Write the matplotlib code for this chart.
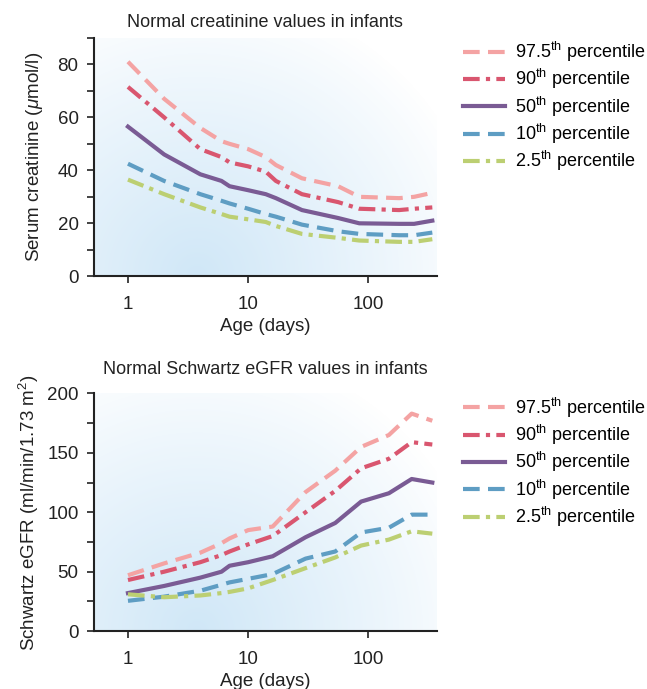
import numpy as np
import matplotlib
matplotlib.use("Agg")
import matplotlib.pyplot as plt
from matplotlib.ticker import FixedLocator, MultipleLocator

plt.rcParams['font.family'] = ['Liberation Sans', 'DejaVu Sans']
plt.rcParams['mathtext.fontset'] = 'custom'
plt.rcParams['mathtext.rm'] = 'Liberation Sans'
plt.rcParams['mathtext.it'] = 'Liberation Sans:italic'

# Serum creatinine (umol/l) by age (days)
creat_age = [1, 2, 4, 6, 7, 10, 14, 17, 28, 56, 84, 180, 240, 340]
creat_p975 = [81, 67, 56, 51, 50, 48, 45, 42, 37, 34, 30, 29.5, 30, 31.5]
creat_p90 = [71.5, 60, 48, 45, 43, 41.5, 39.5, 36, 31, 28, 25.5, 25, 25.5, 26]
creat_p50 = [56.5, 46, 38.5, 36, 34, 32.5, 31, 29.5, 25, 22, 20, 19.8, 19.8, 21]
creat_p10 = [42.5, 36, 31, 28.5, 27.5, 25.5, 23.5, 22.5, 19.5, 17, 16, 15.5, 15.5, 16.5]
creat_p25 = [36.5, 31, 26, 23.5, 22.5, 21.5, 20.5, 19, 16, 14.5, 13.5, 13, 13, 14]

# Schwartz eGFR (ml/min/1.73 m2) by age (days)
egfr_age = [1, 2, 4, 6, 7, 10, 16, 30, 53, 87, 148, 229, 340]
egfr_p975 = [47, 57, 66, 74, 78, 85, 88, 117, 135, 155, 165, 183, 177]
egfr_p90 = [43, 50, 58, 64, 67, 73, 80, 100, 118, 137, 145, 159, 157]
egfr_p50 = [32, 38, 45, 50, 55, 58, 63, 79, 91, 109, 116, 128, 125]
egfr_p10 = [25.5, 29, 34, 39, 41, 44, 48, 61, 67, 83, 87, 98, 98]
egfr_p25 = [31, 28.5, 30, 32, 33, 36, 43, 53, 62, 72, 77, 84, 82]

labels = [r'97.5$^{\rm th}$ percentile', r'90$^{\rm th}$ percentile',
          r'50$^{\rm th}$ percentile', r'10$^{\rm th}$ percentile',
          r'2.5$^{\rm th}$ percentile']
colors = ['#f4a3a3', '#d9566f', '#7a5b94', '#5e9dc3', '#bccf72']
styles = [(0, (4, 2)), (0, (4, 1.5, 1, 1.5)), '-', (0, (4, 2)), (0, (4, 1.5, 1, 1.5))]
TXT = '#222222'


def add_background(ax):
    """Soft blue glow behind the curves"""
    nx, ny = 200, 200
    xx, yy = np.meshgrid(np.linspace(0, 1, nx), np.linspace(0, 1, ny))
    d = np.sqrt(((xx - 0.3) / 0.85) ** 2 + ((yy - 0.0) / 1.2) ** 2)
    a = np.clip(1 - d, 0, 1) ** 0.9
    img = np.zeros((ny, nx, 4))
    img[..., 0] = 0.74
    img[..., 1] = 0.87
    img[..., 2] = 0.96
    img[..., 3] = a * 0.7
    ax.imshow(img, extent=[0, 1, 0, 1], transform=ax.transAxes, origin='lower',
              aspect='auto', zorder=0, interpolation='bilinear')


def style_axes(ax, ymax, major, minor):
    for s in ['top', 'right']:
        ax.spines[s].set_visible(False)
    ax.set_xscale('log')
    ax.set_xlim(0.52, 370)
    ax.set_ylim(0, ymax)
    ax.xaxis.set_major_locator(FixedLocator([1, 10, 100]))
    ax.xaxis.set_minor_locator(FixedLocator([]))
    ax.set_xticklabels(['1', '10', '100'])
    ax.yaxis.set_major_locator(MultipleLocator(major))
    ax.yaxis.set_minor_locator(MultipleLocator(minor))
    ax.tick_params(axis='both', which='major', labelsize=13.5, length=5, width=1.2, colors=TXT)
    ax.tick_params(axis='x', which='major', pad=9)
    ax.tick_params(axis='y', which='major', pad=6)
    ax.tick_params(axis='y', which='minor', length=5, width=1.2, colors=TXT)
    for s in ['left', 'bottom']:
        ax.spines[s].set_linewidth(1.5)
        ax.spines[s].set_color(TXT)
    ax.set_xlabel('Age (days)', fontsize=13.5, color=TXT, labelpad=4)


def add_legend(ax, top):
    ax.legend(loc='upper left', bbox_to_anchor=(1.03, top), frameon=False, fontsize=13,
              handlelength=2.3, labelspacing=0.18, handletextpad=0.55)


fig = plt.figure(figsize=(6.47, 6.89), dpi=100)
ax1 = fig.add_axes([0.145, 0.599, 0.53, 0.346])
ax2 = fig.add_axes([0.145, 0.084, 0.53, 0.345])

# Top: creatinine
add_background(ax1)
creat = [creat_p975, creat_p90, creat_p50, creat_p10, creat_p25]
for vals, lab, col, ls in zip(creat, labels, colors, styles):
    ax1.plot(creat_age, vals, color=col, linestyle=ls, linewidth=3, label=lab, zorder=2)
style_axes(ax1, 90, 20, 10)
ax1.set_ylabel(r'Serum creatinine ($\mu$mol/l)', fontsize=13.5, color=TXT, labelpad=9)
ax1.set_title('Normal creatinine values in infants', fontsize=13, color=TXT, pad=8)
add_legend(ax1, 1.06)

# Bottom: eGFR
add_background(ax2)
egfr = [egfr_p975, egfr_p90, egfr_p50, egfr_p10, egfr_p25]
for vals, lab, col, ls in zip(egfr, labels, colors, styles):
    ax2.plot(egfr_age, vals, color=col, linestyle=ls, linewidth=3, label=lab, zorder=2)
style_axes(ax2, 200, 50, 25)
ax2.set_ylabel(r'Schwartz eGFR (ml/min/1.73 m$^2$)', fontsize=13.5, color=TXT, labelpad=4)
ax2.set_title('Normal Schwartz eGFR values in infants', fontsize=13, color=TXT, pad=14)
add_legend(ax2, 1.06)

fig.savefig('out.png', dpi=100)
